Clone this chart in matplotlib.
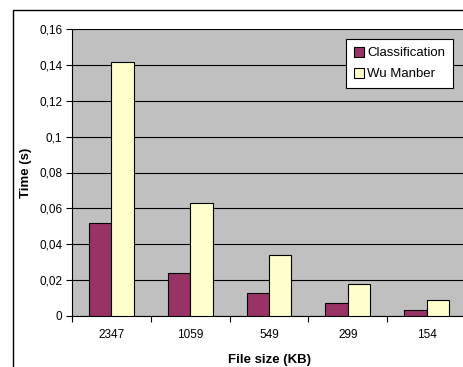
import matplotlib
matplotlib.use("Agg")
import matplotlib.pyplot as plt
import numpy as np
from matplotlib.patches import Rectangle
from matplotlib.ticker import FuncFormatter, FixedLocator

plt.rcParams['font.family'] = ['Liberation Sans', 'DejaVu Sans']

file_sizes = ["2347", "1059", "549", "299", "154"]
classification = [0.0517, 0.0238, 0.0126, 0.0071, 0.0033]
wu_manber = [0.1416, 0.0632, 0.0338, 0.0178, 0.0089]
y_ticks = [0, 0.02, 0.04, 0.06, 0.08, 0.1, 0.12, 0.14, 0.16]

W, H = 464, 367
fig = plt.figure(figsize=(W / 100, H / 100), dpi=100)
fig.patch.set_facecolor("white")

# outer chart frame
fig.patches.append(Rectangle((13 / W, -0.01), 1.0, 1 - 10 / H + 0.01,
                             transform=fig.transFigure, fill=False,
                             edgecolor="black", linewidth=1.0))

left, right, top, bottom = 72, 466, 29, 316
ax = fig.add_axes([left / W, (H - bottom) / H, (right - left) / W, (bottom - top) / H])
ax.set_facecolor("#C0C0C0")

x = np.arange(len(file_sizes))
bw = 0.285
ax.bar(x - bw / 2, classification, bw, color="#993366", edgecolor="black",
       linewidth=0.8, label="Classification", zorder=3)
ax.bar(x + bw / 2, wu_manber, bw, color="#FFFFCC", edgecolor="black",
       linewidth=0.8, label="Wu Manber", zorder=3)

ax.set_xlim(-0.5, len(file_sizes) - 0.5)
ax.set_ylim(0, 0.16)
ax.set_yticks(y_ticks)
ax.yaxis.set_major_formatter(FuncFormatter(lambda v, p: ("%g" % v).replace(".", ",")))
ax.yaxis.grid(True, color="black", linewidth=0.8, zorder=1)
ax.set_axisbelow(True)

ax.set_xticks(x)
ax.set_xticklabels(file_sizes)
ax.xaxis.set_minor_locator(FixedLocator(np.arange(-0.5, len(file_sizes), 1.0)))
ax.tick_params(axis="x", which="major", length=0, pad=9, labelsize=8.5)
ax.tick_params(axis="x", which="minor", length=4, width=0.8, direction="out")
ax.tick_params(axis="y", length=4, width=0.8, direction="out", pad=3, labelsize=8.5)

for s in ["top", "right"]:
    ax.spines[s].set_visible(False)
for s in ["left", "bottom"]:
    ax.spines[s].set_linewidth(0.8)

ax.set_ylabel("Time (s)", fontsize=9.5, fontweight="bold", labelpad=5)
ax.set_xlabel("File size (KB)", fontsize=9.5, fontweight="bold", labelpad=10)

leg = ax.legend(loc="upper right", bbox_to_anchor=((453 - left) / (right - left), 1 - (39 - top) / (bottom - top)),
                fontsize=9.5, frameon=True, fancybox=False, edgecolor="black",
                handlelength=0.75, handleheight=0.75, handletextpad=0.25,
                borderpad=0.6, labelspacing=0.65, borderaxespad=0)
leg.get_frame().set_linewidth(0.8)
leg.get_frame().set_facecolor("white")
leg.get_frame().set_alpha(1)

fig.savefig("out.png", dpi=100)
